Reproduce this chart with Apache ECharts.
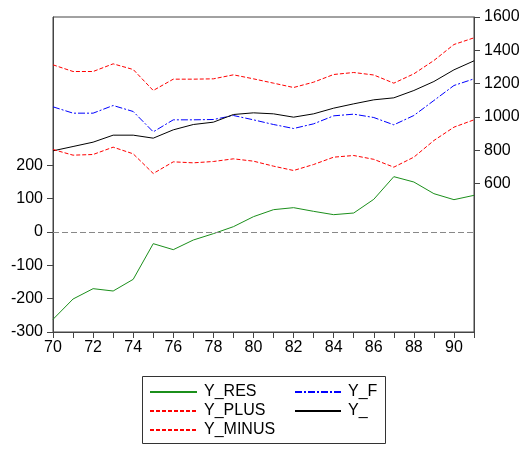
<!DOCTYPE html>
<html>
<head>
<meta charset="utf-8">
<script src="https://cdn.jsdelivr.net/npm/echarts@6/dist/echarts.min.js"></script>
<style>html,body{margin:0;padding:0;background:#fff}#c{width:525px;height:449px}</style>
</head>
<body>
<div id="c"></div>
<script>
const years = [70,71,72,73,74,75,76,77,78,79,80,81,82,83,84,85,86,87,88,89,90,91];
const yRes   = [-262,-201,-170,-177,-142,-35,-53,-24,-5,16,46,67,73,62,52,57,98,166,150,115,97,110];
const yF     = [1061,1023,1023,1069,1033,911,983,983,985,1009,983,955,931,959,1007,1017,997,953,1009,1099,1189,1229];
const yPlus  = [1313,1273,1273,1319,1285,1159,1227,1227,1229,1253,1229,1203,1177,1209,1255,1267,1252,1203,1259,1339,1435,1475];
const yMinus = [805,771,775,819,779,661,731,725,733,749,735,705,679,715,759,769,746,699,759,859,939,983];
const yAct   = [797,823,849,891,891,873,923,955,969,1015,1025,1019,999,1019,1053,1079,1103,1115,1159,1213,1283,1337];
const xLabels = [70,72,74,76,78,80,82,84,86,88,90];
const leftTicks = [-300,-200,-100,0,100,200];
const rightTicks = [600,800,1000,1200,1400,1600];

const pairs = arr => years.map((y,i)=>[y,arr[i]]);
const axisCol = '#444';
const font = {fontFamily:'Liberation Sans, Arial, sans-serif', fontSize:16, color:'#000'};
const plain = v => String(v);

const chart = echarts.init(document.getElementById('c'));
chart.setOption({
  animation:false,
  backgroundColor:'#fff',
  grid:{left:53, right:51, top:17, height:315, show:true, borderColor:axisCol, borderWidth:1, containLabel:false},
  xAxis:{type:'value', min:70, max:91, interval:1, position:'bottom',
    axisLine:{show:true, onZero:false, lineStyle:{color:axisCol}},
    axisTick:{show:true, inside:false, length:6, lineStyle:{color:axisCol, width:1}},
    axisLabel:Object.assign({margin:8, customValues:xLabels, formatter:plain}, font),
    splitLine:{show:false}},
  yAxis:[
    {type:'value', min:-300, max:645, position:'left',
      axisLine:{show:true, onZero:false, lineStyle:{color:axisCol}},
      axisTick:{show:true, inside:false, length:6, customValues:leftTicks, lineStyle:{color:axisCol, width:1}},
      axisLabel:Object.assign({margin:10, customValues:leftTicks, formatter:plain}, font),
      splitLine:{show:false}},
    {type:'value', min:-290, max:1600, position:'right',
      axisLine:{show:true, onZero:false, lineStyle:{color:axisCol}},
      axisTick:{show:true, inside:false, length:6, customValues:rightTicks, lineStyle:{color:axisCol, width:1}},
      axisLabel:Object.assign({margin:10, customValues:rightTicks, formatter:plain}, font),
      splitLine:{show:false}}
  ],
  legend:[
    {orient:'vertical', left:149, top:384, padding:0, itemWidth:47, itemHeight:14, itemGap:3,
      itemStyle:{opacity:0},
      textStyle:Object.assign({lineHeight:16, padding:[0,0,0,2]}, font),
      data:['Y_RES','Y_PLUS','Y_MINUS']},
    {orient:'vertical', left:294, top:384, padding:0, itemWidth:46, itemHeight:14, itemGap:3,
      itemStyle:{opacity:0},
      textStyle:Object.assign({lineHeight:16, padding:[0,0,0,2]}, font),
      data:['Y_F','Y_']}
  ],
  graphic:[{type:'rect', shape:{x:142.5, y:376.5, width:243, height:67}, style:{fill:'none', stroke:'#333', lineWidth:1}}],
  series:[
    {name:'Y_RES', type:'line', yAxisIndex:0, data:pairs(yRes), symbol:'none',
      lineStyle:{color:'#1b8f1b', width:1}, itemStyle:{color:'#1b8f1b'},
      markLine:{silent:true, symbol:'none', label:{show:false},
        lineStyle:{color:'#888', type:[6,3], width:1}, data:[{yAxis:0}]}},
    {name:'Y_F', type:'line', yAxisIndex:1, data:pairs(yF), symbol:'none',
      lineStyle:{color:'#0000ff', width:1, type:[7,2,2,2]}, itemStyle:{color:'#0000ff'}},
    {name:'Y_PLUS', type:'line', yAxisIndex:1, data:pairs(yPlus), symbol:'none',
      lineStyle:{color:'#ff0000', width:1, type:[4,2]}, itemStyle:{color:'#ff0000'}},
    {name:'Y_', type:'line', yAxisIndex:1, data:pairs(yAct), symbol:'none',
      lineStyle:{color:'#000', width:1}, itemStyle:{color:'#000'}},
    {name:'Y_MINUS', type:'line', yAxisIndex:1, data:pairs(yMinus), symbol:'none',
      lineStyle:{color:'#ff0000', width:1, type:[4,2]}, itemStyle:{color:'#ff0000'}}
  ]
});
</script>
</body>
</html>
